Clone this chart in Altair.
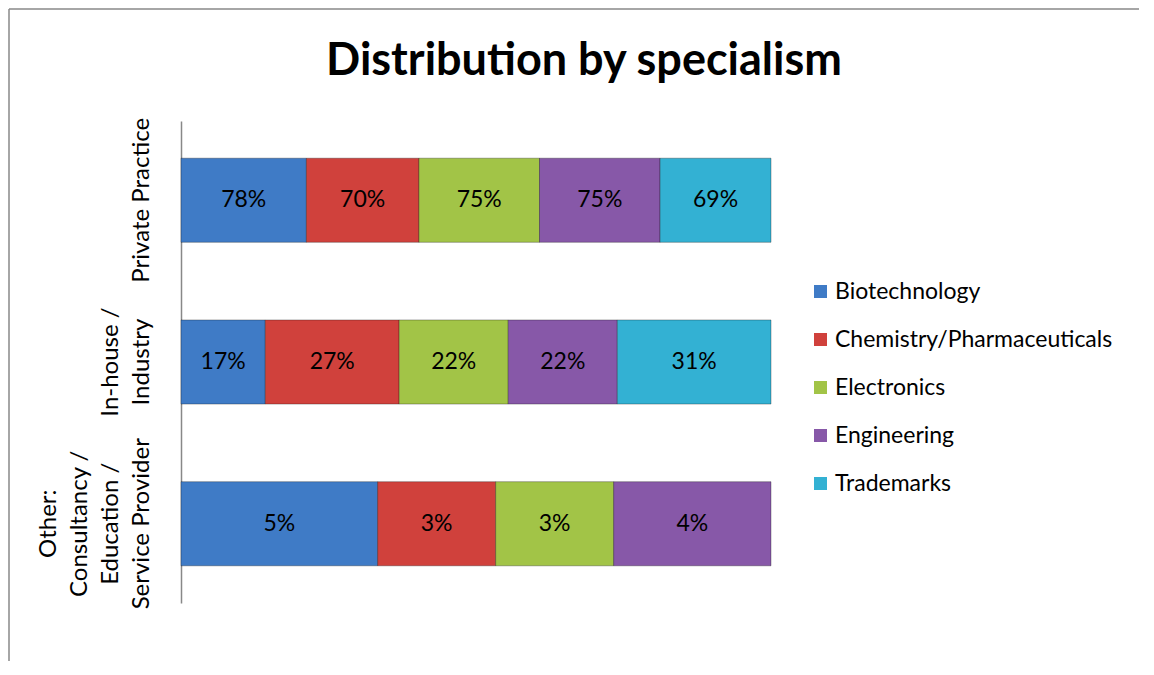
import altair as alt
import pandas as pd

# ---- data ----
rows = ["Private Practice", "In-house /|Industry", "Other:|Consultancy /|Education /|Service Provider"]
specialisms = ["Biotechnology", "Chemistry/Pharmaceuticals", "Electronics", "Engineering", "Trademarks"]
private_practice = [78, 70, 75, 75, 69]
in_house = [17, 27, 22, 22, 31]
other = [5, 3, 3, 4, 0]
colors = ["#3F7BC6", "#D0413C", "#A2C447", "#8758A8", "#33B1D3"]
title_text = "Distribution by specialism"

records = []
for r, vals in zip(rows, [private_practice, in_house, other]):
    for i, (s, v) in enumerate(zip(specialisms, vals)):
        records.append({"row": r, "spec": s, "value": v, "order": i})
df = pd.DataFrame(records)
rows_df = pd.DataFrame({"row": rows})
one_df = pd.DataFrame({"t": [title_text]})

FONT = "Lato"
LINE_H = 31

base = alt.Chart(df).transform_filter(
    "datum.value > 0"
).transform_stack(
    stack="value", groupby=["row"], as_=["x0", "x1"], offset="normalize",
    sort=[alt.SortField("order", order="ascending")]
).transform_calculate(
    mid="(datum.x0 + datum.x1) / 2", lab="datum.value + '%'"
)

y_enc = alt.Y(
    "row:N", sort=rows,
    scale=alt.Scale(paddingInner=0.48, paddingOuter=0.23),
    axis=alt.Axis(
        title=None, labels=False, ticks=False, domainColor="#888888",
        domainWidth=1.5,
    ),
)
x_scale = alt.Scale(domain=[0, 1], nice=False)

bars = base.mark_bar(stroke="#000000", strokeOpacity=0.3, strokeWidth=1).encode(
    x=alt.X("x0:Q", scale=x_scale, axis=None),
    x2="x1:Q",
    y=y_enc,
    color=alt.Color(
        "spec:N", sort=specialisms,
        scale=alt.Scale(domain=specialisms, range=colors),
        legend=alt.Legend(
            title=None, orient="none", legendX=628, legendY=159,
            symbolType="square", symbolSize=169, symbolStrokeWidth=0,
            labelFontSize=23, labelFont=FONT, labelColor="#000000",
            rowPadding=24, labelOffset=3, padding=0, labelLimit=0,
        ),
    ),
    order=alt.Order("order:Q"),
)

texts = base.mark_text(fontSize=23, font=FONT, color="#000000").encode(
    x=alt.X("mid:Q", scale=x_scale, axis=None),
    y=alt.Y("row:N", sort=rows),
    text="lab:N",
)

# category labels (rotated, multi-line) beside the axis
cat_labels = alt.Chart(rows_df).transform_calculate(
    n="length(split(datum.row, '|'))",
    px=f"-32 - (datum.n - 1) * {LINE_H}",
).mark_text(
    angle=270, align="center", baseline="alphabetic", lineBreak="|",
    lineHeight=LINE_H, fontSize=24, font=FONT, color="#000000",
).encode(
    x=alt.X("px:Q", scale=None),
    y=alt.Y("row:N", sort=rows),
    text="row:N",
)

title = alt.Chart(one_df).mark_text(
    fontSize=45, font=FONT, fontWeight="bold", color="#000000",
    align="center", baseline="alphabetic",
).encode(x=alt.value(403), y=alt.value(-46), text="t:N")

frame_df = pd.DataFrame({"k": [0]})
top_border = alt.Chart(frame_df).mark_rule(color="#888888", strokeWidth=1.5).encode(
    x=alt.value(-172), x2=alt.value(958), y=alt.value(-112)
)
left_border = alt.Chart(frame_df).mark_rule(color="#888888", strokeWidth=1.5).encode(
    x=alt.value(-172), y=alt.value(-112), y2=alt.value(540)
)

chart = alt.layer(top_border, left_border, bars, texts, cat_labels, title).properties(
    width=590, height=482, padding=0,
).configure(font=FONT).configure_view(stroke=None)

chart.save("out.html", embed_options={"renderer": "svg", "actions": False})
